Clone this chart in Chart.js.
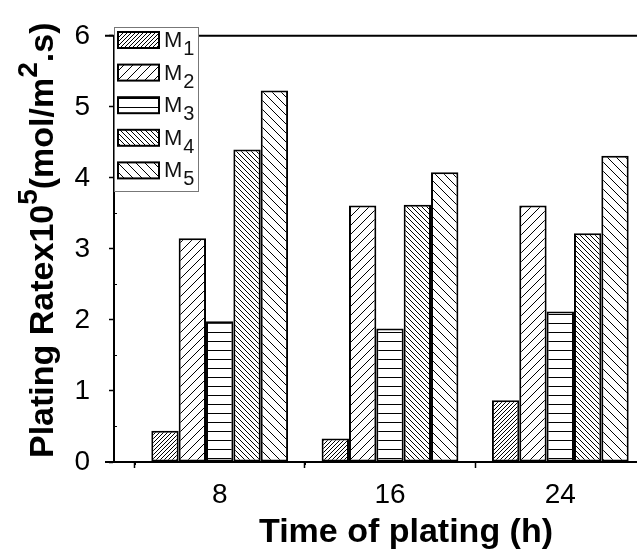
<!DOCTYPE html>
<html>
<head>
<meta charset="utf-8">
<script src="https://cdn.jsdelivr.net/npm/chart.js@4.4.1/dist/chart.umd.min.js"></script>
<style>
  html, body { margin: 0; padding: 0; overflow: hidden; background: #fff; }
  #wrap { width: 680px; height: 550px; }
</style>
</head>
<body>
<div id="wrap"><canvas id="c" width="680" height="550"></canvas></div>
<script>
// Plating time (h) on the x axis
const platingTimes = [8, 16, 24];
// Sample series names
const seriesNames = ['M1', 'M2', 'M3', 'M4', 'M5'];
// Plating rate x10^5 (mol/m2.s) per sample, one value per plating time
const m1 = [0.44, 0.33, 0.87];
const m2 = [3.15, 3.61, 3.61];
const m3 = [1.98, 1.88, 2.12];
const m4 = [4.40, 3.62, 3.22];
const m5 = [5.23, 4.08, 4.31];
// Labelled ticks
const xTickValues = [8, 16, 24];
const yTickValues = [0, 1, 2, 3, 4, 5, 6];
// Small unlabelled ticks
const xMinorTicks = [4, 12, 20, 28];
const yMinorTicks = [0.5, 1.5, 2.5, 3.5, 4.5, 5.5];

const FONT = "'Liberation Sans', Arial, sans-serif";
const canvas = document.getElementById('c');
const ctx = canvas.getContext('2d');

// Line-hatch fills for the bars
function hatch(kind, d) {
  const t = document.createElement('canvas');
  t.width = d; t.height = d;
  const g = t.getContext('2d');
  g.fillStyle = '#fff';
  g.fillRect(0, 0, d, d);
  g.strokeStyle = '#000';
  g.lineWidth = 1;
  g.beginPath();
  if (kind === '/') {
    for (let k = -1; k <= 1; k++) { g.moveTo(k * d, d); g.lineTo(k * d + d, 0); }
  } else if (kind === '\\') {
    for (let k = -1; k <= 1; k++) { g.moveTo(k * d, 0); g.lineTo(k * d + d, d); }
  } else {
    g.moveTo(0, d - 0.5); g.lineTo(d, d - 0.5);
  }
  g.stroke();
  return ctx.createPattern(t, 'repeat');
}

const fills = [hatch('/', 4), hatch('/', 9), hatch('-', 9), hatch('\\', 5), hatch('\\', 9)];
const seriesValues = [m1, m2, m3, m4, m5];

const datasets = seriesNames.map((name, i) => ({
  label: name,
  data: platingTimes.map((t, j) => ({ x: t, y: seriesValues[i][j] })),
  backgroundColor: fills[i],
  borderColor: '#000',
  borderWidth: 2,
  borderSkipped: false,
  barPercentage: 1.0,
  categoryPercentage: 0.803
}));

// Frame, minor ticks, legend and axis titles
const decorations = {
  id: 'decorations',
  afterDraw(chart) {
    const c = chart.ctx;
    const a = chart.chartArea;
    const xs = chart.scales.x, ys = chart.scales.y;
    c.save();
    c.strokeStyle = '#000';
    // top frame line and left stubs of the horizontal lines
    c.lineWidth = 2;
    c.beginPath();
    c.moveTo(105, a.top); c.lineTo(chart.width, a.top);
    c.moveTo(105, a.bottom); c.lineTo(a.left, a.bottom);
    c.stroke();
    // minor ticks
    c.lineWidth = 1;
    c.beginPath();
    xMinorTicks.forEach(v => {
      const px = Math.round(xs.getPixelForValue(v)) + 0.5;
      c.moveTo(px, a.bottom); c.lineTo(px, a.bottom + 3);
    });
    yMinorTicks.forEach(v => {
      const py = Math.round(ys.getPixelForValue(v)) + 0.5;
      c.moveTo(a.left, py); c.lineTo(a.left + 3, py);
    });
    c.stroke();

    // legend
    const lx = a.left, ly = 27, lw = 84, lh = 164;
    c.fillStyle = '#fff';
    c.fillRect(lx + 1, ly, lw - 1, lh);
    c.strokeStyle = '#777';
    c.lineWidth = 1;
    c.strokeRect(lx + 0.5, ly + 0.5, lw, lh);
    chart.data.datasets.forEach((ds, i) => {
      const sy = 32 + i * 32.6;
      c.fillStyle = ds.backgroundColor;
      c.fillRect(118, sy, 41, 16);
      c.strokeStyle = '#000';
      c.lineWidth = 2;
      c.strokeRect(118, sy, 41, 16);
      c.fillStyle = '#111';
      c.textBaseline = 'alphabetic';
      c.textAlign = 'left';
      c.font = '22px ' + FONT;
      const base = ds.label.charAt(0), sub = ds.label.slice(1);
      c.fillText(base, 164, sy + 15);
      const w = c.measureText(base).width;
      c.font = '20px ' + FONT;
      c.fillText(sub, 164 + w + 1, sy + 23);
    });

    // x axis title
    c.fillStyle = '#000';
    c.font = 'bold 34px ' + FONT;
    c.textAlign = 'center';
    c.textBaseline = 'alphabetic';
    c.fillText('Time of plating (h)', 406, 542);

    // y axis title (rotated, with superscripts)
    c.translate(53, 458);
    c.rotate(-Math.PI / 2);
    c.textAlign = 'left';
    const parts = [
      { t: 'Plating Ratex10', f: 'bold 34px ', dy: 0 },
      { t: '5', f: 'bold 28px ', dy: -16 },
      { t: '(mol/m', f: 'bold 34px ', dy: 0 },
      { t: '2', f: 'bold 28px ', dy: -16 },
      { t: '.s)', f: 'bold 34px ', dy: 0 }
    ];
    let x = 0;
    parts.forEach(p => {
      c.font = p.f + FONT;
      c.fillText(p.t, x, p.dy);
      x += c.measureText(p.t).width;
    });
    c.restore();
  }
};

new Chart(ctx, {
  type: 'bar',
  data: { datasets },
  options: {
    responsive: false,
    animation: false,
    devicePixelRatio: 1,
    layout: { padding: { left: 0, top: 23, right: 14, bottom: 0 } },
    plugins: { legend: { display: false }, tooltip: { enabled: false } },
    scales: {
      x: {
        type: 'linear',
        min: 3.035,
        max: 28.965,
        offset: false,
        afterBuildTicks: s => { s.ticks = xTickValues.map(v => ({ value: v })); },
        afterFit: s => { s.height = 88; },
        grid: { display: true, drawOnChartArea: false, tickLength: 6, tickColor: '#000', tickWidth: 1.5 },
        border: { display: true, color: '#000', width: 2 },
        ticks: { color: '#000', padding: 10, font: { family: FONT, size: 28 }, maxRotation: 0 }
      },
      y: {
        type: 'linear',
        min: 0,
        max: 6,
        afterBuildTicks: s => { s.ticks = yTickValues.map(v => ({ value: v })); },
        afterFit: s => { s.width = 114; },
        grid: { display: true, drawOnChartArea: false, tickLength: 5, tickColor: '#000', tickWidth: 1.5 },
        border: { display: true, color: '#000', width: 2 },
        ticks: { color: '#000', padding: 19, font: { family: FONT, size: 28 } }
      }
    }
  },
  plugins: [decorations]
});
</script>
</body>
</html>
